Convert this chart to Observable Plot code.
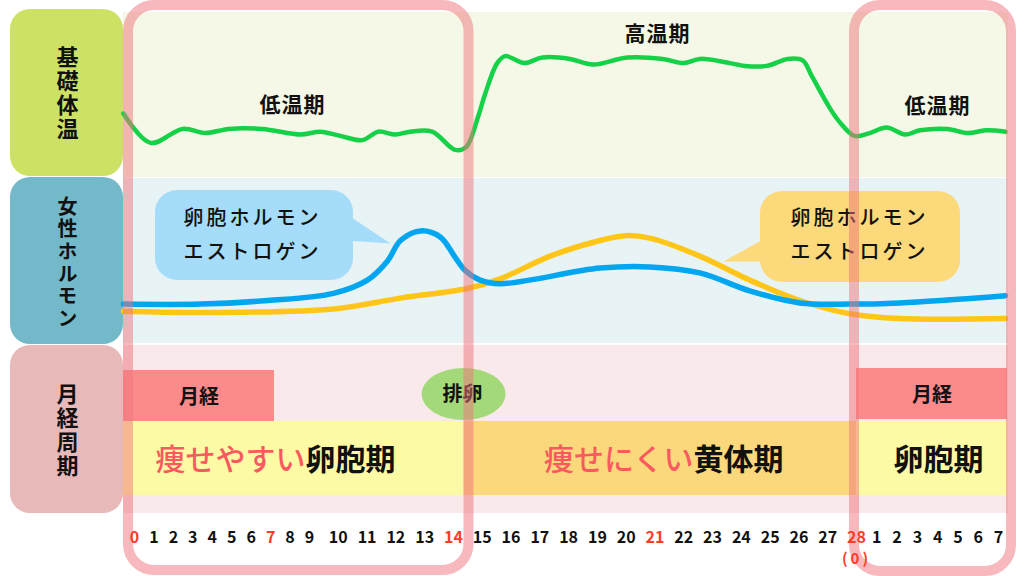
<!DOCTYPE html>
<html><head><meta charset="utf-8">
<script src="https://cdn.jsdelivr.net/npm/d3@7"></script>
<script src="https://cdn.jsdelivr.net/npm/@observablehq/plot@0.6"></script>
<style>
body{margin:0;background:#fff;}
.spaced text{letter-spacing:3px;}
.spaced1 text{letter-spacing:1px;}
.vert text{writing-mode:vertical-rl;text-orientation:upright;}
.vert2 text{letter-spacing:2px;}
.vert3 text{letter-spacing:2.3px;}
</style>
</head><body><div id="chart"></div>
<script>
// ---------- data ----------
const rowLabels = ["基礎体温", "女性ホルモン", "月経周期"];
const tickDays = d3.range(0, 36);
const tickLabels = ["0","1","2","3","4","5","6","7","8","9","10","11","12","13","14","15","16","17","18","19","20","21","22","23","24","25","26","27","28","1","2","3","4","5","6","7"];
const redTickDays = [0, 7, 14, 21, 28];
const tempDays = [-0.57,0.82,2.47,3.65,4.84,6.58,8.54,9.38,10.07,10.84,11.39,11.98,12.50,13.26,14.06,14.44,14.86,15.10,15.52,15.80,16.46,17.09,18.05,18.85,20.03,21.27,22.00,22.56,23.60,24.12,24.88,25.61,26.13,26.44,27.07,27.41,27.93,28.65,29.49,30.39,31.13,32.47,33.51,34.36,35.35];
const tempValues = [36.45,36.24,36.34,36.31,36.34,36.34,36.30,36.32,36.29,36.26,36.32,36.30,36.32,36.32,36.19,36.21,36.43,36.59,36.81,36.86,36.81,36.85,36.84,36.80,36.85,36.84,36.81,36.84,36.81,36.79,36.79,36.84,36.83,36.72,36.49,36.39,36.29,36.31,36.35,36.30,36.33,36.34,36.31,36.33,36.32];
const estrogenDays = [-0.57,3.40,6.84,9.83,11.01,11.71,12.16,12.85,13.54,14.06,14.41,14.93,15.62,19.09,20.82,22.56,24.29,26.03,27.76,30.13,35.35];
const estrogenLevels = [22,22,25,31,42,58,75,83,78,61,50,42,39,52,53,48,33,23,22,23,29];
const progDays = [-0.57,3.40,9.83,12.16,14.48,15.62,17.36,19.09,19.96,20.82,22.56,24.29,26.03,27.76,30.13,35.35];
const progLevels = [16,15,18,27,35,43,62,75,79,77,62,42,25,14,10,10];
const bubbleLines = ["卵胞ホルモン", "エストロゲン"];
const tempPhaseLabels = ["低温期", "高温期", "低温期"];
const mensesLabel = "月経";
const ovulationLabel = "排卵";
const ovulationDay = 14.37;
const mensesEnd = 7.2;
const cycleEnd = 28;

// ---------- layout ----------
const W = 1024, H = 576;
const xDomain = [0, 9, 28, 35];
const xRange = [134, 309, 856, 998];
const xs = d3.scaleLinear(xDomain, xRange);
const START = xs.invert(123), END = xs.invert(1008);
const COL1 = xs.invert(10), COL2 = xs.invert(123), COLC = xs.invert(67);
const tempY = d3.scaleLinear([36, 37], [176, 36]);
const hormY = d3.scaleLinear([0, 100], [330, 210]);

const C = {
  green: "#14d148", blue: "#00a6ef", yellow: "#ffc619",
  red: "#ff3c28", pinkText: "#fa5a5f", ink: "#111"
};

const tempData = tempDays.map((d, i) => ({d, v: tempValues[i]}));
const estData = estrogenDays.map((d, i) => ({d, v: estrogenLevels[i]}));
const progData = progDays.map((d, i) => ({d, v: progLevels[i]}));

const boxes = [
  {x1: COL1, x2: COL2, y1: 9, y2: 176, fill: "#cde165"},
  {x1: COL1, x2: COL2, y1: 177, y2: 344, fill: "#74b9c9"},
  {x1: COL1, x2: COL2, y1: 345, y2: 513, fill: "#e8b9b9"}
];
const panels = [
  {x1: START, x2: END, y1: 12, y2: 177, fill: "#f5f8e6"},
  {x1: START, x2: END, y1: 178, y2: 343, fill: "#e8f3f5"},
  {x1: START, x2: END, y1: 345, y2: 513, fill: "#f9e9ea"}
];
const bands = [
  {x1: START, x2: mensesEnd, y1: 370, y2: 421, fill: "#fd8a8a"},
  {x1: cycleEnd, x2: xs.invert(1007), y1: 368, y2: 419, fill: "#fd8a8a"},
  {x1: START, x2: ovulationDay, y1: 421, y2: 495, fill: "#fdfaa6"},
  {x1: ovulationDay, x2: cycleEnd, y1: 421, y2: 495, fill: "#fcd87c"},
  {x1: cycleEnd, x2: xs.invert(1007), y1: 421, y2: 495, fill: "#fdfaa6"}
];
const ovX1 = xs.invert(xs(ovulationDay) - 42), ovX2 = xs.invert(xs(ovulationDay) + 42);
const bubbles = [
  {x1: xs.invert(155), x2: xs.invert(353), y1: 190, y2: 280, fill: "#a5dcfa"},
  {x1: xs.invert(760), x2: xs.invert(960), y1: 191, y2: 282, fill: "#fcd97a"}
];
const tailBlue = [{x: xs.invert(345), y: 213}, {x: xs.invert(390), y: 243}, {x: xs.invert(345), y: 240}];
const tailYellow = [{x: xs.invert(768), y: 236}, {x: xs.invert(723), y: 261}, {x: xs.invert(768), y: 261}];
const frames = [
  {x1: xs.invert(128), x2: xs.invert(468.5), y1: 5, y2: 570},
  {x1: xs.invert(854), x2: xs.invert(1011), y1: 5, y2: 571}
];

const phaseText = tempPhaseLabels.map((t, i) => ({t, x: [xs.invert(292), xs.invert(657), xs.invert(937)][i], y: [105, 34, 106][i]}));
const bubbleText = [
  ...bubbleLines.map((t, i) => ({t, x: xs.invert(183), y: [218, 252][i]})),
  ...bubbleLines.map((t, i) => ({t, x: xs.invert(790), y: [218, 252][i]}))
];

const plot = Plot.plot({
  width: W, height: H, margin: 0,
  x: {type: "linear", domain: xDomain, range: xRange, axis: null},
  y: {type: "linear", domain: [0, H], range: [0, H], axis: null},
  color: {type: "identity"},
  style: {fontFamily: "'Noto Sans CJK JP', 'Noto Sans', sans-serif", background: "#fff"},
  marks: [
    Plot.rect(boxes, {x1: "x1", x2: "x2", y1: "y1", y2: "y2", fill: "fill", rx: 20}),
    Plot.rect(panels, {x1: "x1", x2: "x2", y1: "y1", y2: "y2", fill: "fill"}),
    Plot.rect(bands, {x1: "x1", x2: "x2", y1: "y1", y2: "y2", fill: "fill"}),
    Plot.rect([{}], {x1: ovX1, x2: ovX2, y1: 368, y2: 420, fill: "#a4d97a", rx: 42, ry: 26}),
    Plot.rect(bubbles, {x1: "x1", x2: "x2", y1: "y1", y2: "y2", fill: "fill", rx: 22}),
    Plot.line(tailBlue, {x: "x", y: "y", fill: "#a5dcfa", stroke: "none"}),
    Plot.line(tailYellow, {x: "x", y: "y", fill: "#fcd97a", stroke: "none"}),
    Plot.line(tempData, {x: "d", y: d => tempY(d.v), stroke: C.green, strokeWidth: 4.5, curve: "catmull-rom", strokeLinecap: "round"}),
    Plot.line(progData, {x: "d", y: d => hormY(d.v), stroke: C.yellow, strokeWidth: 5.5, curve: "catmull-rom", strokeLinecap: "round"}),
    Plot.line(estData, {x: "d", y: d => hormY(d.v), stroke: C.blue, strokeWidth: 5.5, curve: "catmull-rom", strokeLinecap: "round"}),
    // row labels (vertical writing)
    Plot.text([{t: rowLabels[0], y: 93}, {t: rowLabels[2], y: 430}], {x: COLC, y: "y", text: "t", fontSize: 22, fontWeight: 700, fill: C.ink, lineAnchor: "bottom", className: "vert vert2"}),
    Plot.text([{t: rowLabels[1], y: 263}], {x: COLC, y: "y", text: "t", fontSize: 20, fontWeight: 700, fill: C.ink, lineAnchor: "bottom", className: "vert vert3"}),
    // phase labels
    Plot.text(phaseText, {x: "x", y: "y", text: "t", fontSize: 21, fontWeight: 700, fill: C.ink, className: "spaced1"}),
    // bubble text
    Plot.text(bubbleText, {x: "x", y: "y", text: "t", fontSize: 20, fontWeight: 500, textAnchor: "start", fill: C.ink, className: "spaced"}),
    // cycle texts
    Plot.text([{x: (START + mensesEnd) / 2, y: 397}, {x: xs.invert((856 + 1007) / 2), y: 395}], {x: "x", y: "y", text: () => mensesLabel, fontSize: 20, fontWeight: 700, fill: C.ink}),
    Plot.text([{}], {x: xs.invert(462), y: 394, text: () => ovulationLabel, fontSize: 20, fontWeight: 700, fill: C.ink}),
    Plot.text([{x: xs.invert(305), t: "痩せやすい"}, {x: xs.invert(693), t: "痩せにくい"}], {x: "x", y: 460, text: "t", fontSize: 30, fontWeight: 500, textAnchor: "end", fill: C.pinkText}),
    Plot.text([{x: xs.invert(305), t: "卵胞期"}, {x: xs.invert(693), t: "黄体期"}], {x: "x", y: 460, text: "t", fontSize: 30, fontWeight: 700, textAnchor: "start", fill: C.ink}),
    Plot.text([{}], {x: xs.invert(938), y: 460, text: () => "卵胞期", fontSize: 30, fontWeight: 700, fill: C.ink}),
    // frames
    Plot.rect(frames, {x1: "x1", x2: "x2", y1: "y1", y2: "y2", fill: "none", stroke: "#ef737b", strokeOpacity: 0.5, strokeWidth: 10, rx: 26}),
    // ticks
    Plot.text(tickDays, {x: d => d, y: 537, text: (d, i) => tickLabels[i], fill: d => redTickDays.includes(d) ? C.red : C.ink, fontSize: 16, fontWeight: 600}),
    Plot.text([{}], {x: cycleEnd, y: 559, text: () => "(0)", fill: C.red, fontSize: 15, fontWeight: 600, className: "spaced"})
  ]
});
document.getElementById("chart").appendChild(plot);
</script>
</body></html>
